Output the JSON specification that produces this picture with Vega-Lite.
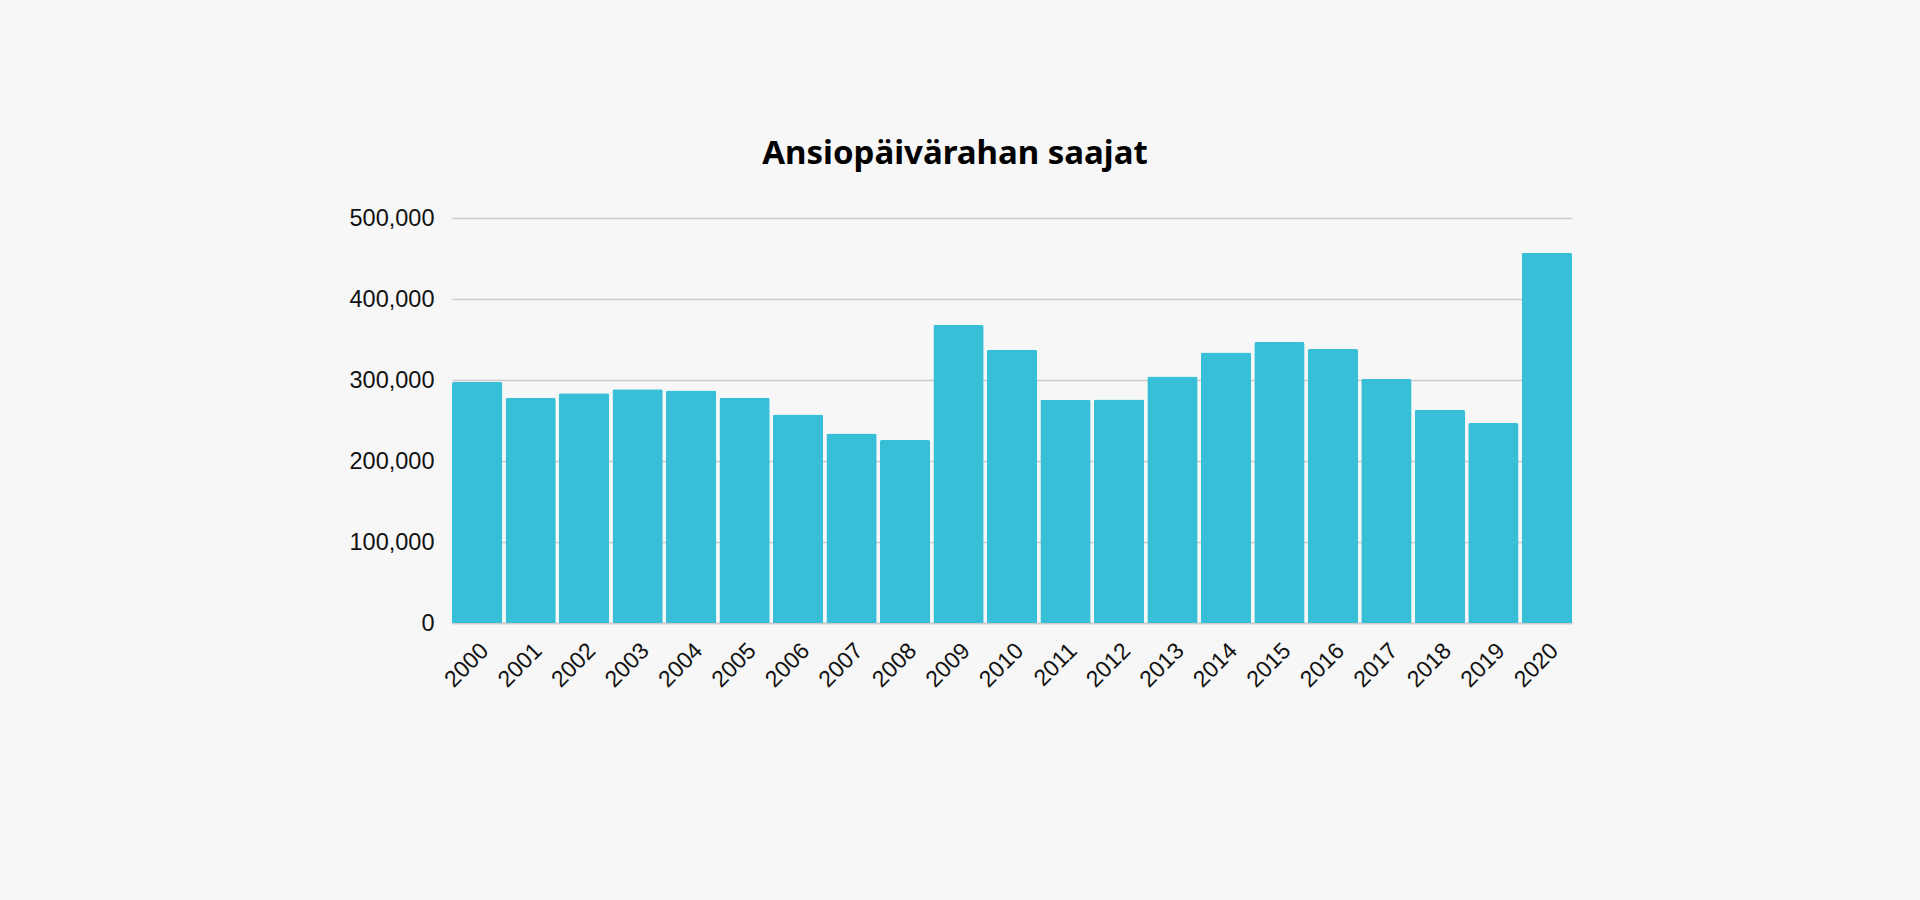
{
  "$schema": "https://vega.github.io/schema/vega-lite/v6.json",
  "width": 1120,
  "height": 405,
  "autosize": {"type": "none"},
  "padding": {"left": 452, "top": 218, "right": 348, "bottom": 277},
  "background": "#f7f7f7",
  "title": {
    "text": "Ansiopäivärahan saajat",
    "font": "Noto Sans",
    "fontSize": 33,
    "fontWeight": "bold",
    "color": "#000000",
    "anchor": "middle",
    "dx": -57,
    "offset": 35
  },
  "data": {
    "values": [
      {"vuosi": "2000", "saajat": 297500},
      {"vuosi": "2001", "saajat": 277800},
      {"vuosi": "2002", "saajat": 283500},
      {"vuosi": "2003", "saajat": 288700},
      {"vuosi": "2004", "saajat": 287000},
      {"vuosi": "2005", "saajat": 278100},
      {"vuosi": "2006", "saajat": 257400},
      {"vuosi": "2007", "saajat": 234100},
      {"vuosi": "2008", "saajat": 225900},
      {"vuosi": "2009", "saajat": 368300},
      {"vuosi": "2010", "saajat": 337400},
      {"vuosi": "2011", "saajat": 275700},
      {"vuosi": "2012", "saajat": 276000},
      {"vuosi": "2013", "saajat": 304400},
      {"vuosi": "2014", "saajat": 334000},
      {"vuosi": "2015", "saajat": 346900},
      {"vuosi": "2016", "saajat": 338300},
      {"vuosi": "2017", "saajat": 301200},
      {"vuosi": "2018", "saajat": 263300},
      {"vuosi": "2019", "saajat": 246900},
      {"vuosi": "2020", "saajat": 457200}
    ]
  },
  "mark": {"type": "bar", "color": "#36bfd6", "cornerRadiusTopLeft": 2, "cornerRadiusTopRight": 2},
  "encoding": {
    "x": {
      "field": "vuosi",
      "type": "ordinal",
      "scale": {"paddingInner": 0.06, "paddingOuter": 0},
      "axis": {
        "title": null,
        "labelAngle": -45,
        "labelFont": "Liberation Sans",
        "labelFontSize": 23,
        "labelColor": "#111111",
        "ticks": false,
        "labelPadding": 16,
        "domainColor": "#cccccc",
        "domainWidth": 1.5
      }
    },
    "y": {
      "field": "saajat",
      "type": "quantitative",
      "scale": {"domain": [0, 500000]},
      "axis": {
        "title": null,
        "values": [0, 100000, 200000, 300000, 400000, 500000],
        "format": ",d",
        "labelFont": "Liberation Sans",
        "labelFontSize": 23.5,
        "labelColor": "#111111",
        "ticks": false,
        "labelPadding": 18,
        "domain": false,
        "gridColor": "#cccccc",
        "gridWidth": 1.5
      }
    }
  },
  "config": {"view": {"stroke": null}}
}
